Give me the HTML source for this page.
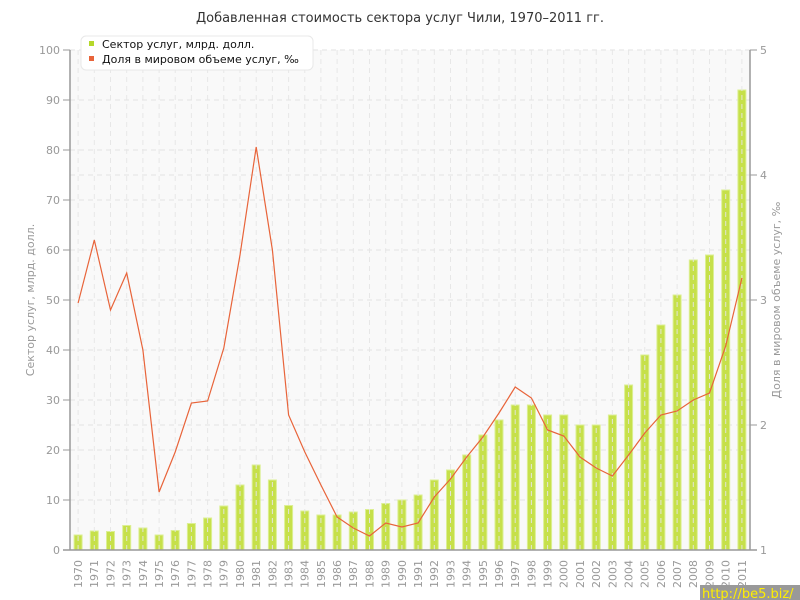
<!DOCTYPE html>
<html><head><meta charset="utf-8"><style>
body{margin:0;background:#fff;}
svg{display:block;font-family:"DejaVu Sans","Liberation Sans",sans-serif;}
</style></head><body>
<svg width="800" height="600" viewBox="0 0 800 600">
<rect x="0" y="0" width="800" height="600" fill="#fff"/>
<rect x="70" y="50" width="680" height="500" fill="#f9f9f9"/>
<text x="400" y="22" text-anchor="middle" font-size="13" fill="#333">Добавленная стоимость сектора услуг Чили, 1970–2011 гг.</text>
<g stroke="#e2e2e2" stroke-dasharray="5,4" stroke-width="1">
<path d="M70 50H750M70 100H750M70 150H750M70 200H750M70 250H750M70 300H750M70 350H750M70 400H750M70 450H750M70 500H750M70 175H750M70 425H750"/>
</g>
<g fill="#c6e04a" stroke="#dcef94" stroke-width="1">
<rect x="74.1" y="535" width="8" height="15"/>
<rect x="90.3" y="531" width="8" height="19"/>
<rect x="106.5" y="531.5" width="8" height="18.5"/>
<rect x="122.7" y="525.5" width="8" height="24.5"/>
<rect x="138.9" y="528" width="8" height="22"/>
<rect x="155.1" y="535" width="8" height="15"/>
<rect x="171.2" y="530.5" width="8" height="19.5"/>
<rect x="187.4" y="523.5" width="8" height="26.5"/>
<rect x="203.6" y="518" width="8" height="32"/>
<rect x="219.8" y="506" width="8" height="44"/>
<rect x="236" y="485" width="8" height="65"/>
<rect x="252.2" y="465" width="8" height="85"/>
<rect x="268.4" y="480" width="8" height="70"/>
<rect x="284.6" y="505.5" width="8" height="44.5"/>
<rect x="300.8" y="511" width="8" height="39"/>
<rect x="316.9" y="515" width="8" height="35"/>
<rect x="333.1" y="515" width="8" height="35"/>
<rect x="349.3" y="512" width="8" height="38"/>
<rect x="365.5" y="509.5" width="8" height="40.5"/>
<rect x="381.7" y="503.5" width="8" height="46.5"/>
<rect x="397.9" y="500" width="8" height="50"/>
<rect x="414.1" y="495" width="8" height="55"/>
<rect x="430.3" y="480" width="8" height="70"/>
<rect x="446.5" y="470" width="8" height="80"/>
<rect x="462.7" y="455" width="8" height="95"/>
<rect x="478.9" y="435" width="8" height="115"/>
<rect x="495" y="420" width="8" height="130"/>
<rect x="511.2" y="405" width="8" height="145"/>
<rect x="527.4" y="405" width="8" height="145"/>
<rect x="543.6" y="415" width="8" height="135"/>
<rect x="559.8" y="415" width="8" height="135"/>
<rect x="576" y="425" width="8" height="125"/>
<rect x="592.2" y="425" width="8" height="125"/>
<rect x="608.4" y="415" width="8" height="135"/>
<rect x="624.6" y="385" width="8" height="165"/>
<rect x="640.8" y="355" width="8" height="195"/>
<rect x="656.9" y="325" width="8" height="225"/>
<rect x="673.1" y="295" width="8" height="255"/>
<rect x="689.3" y="260" width="8" height="290"/>
<rect x="705.5" y="255" width="8" height="295"/>
<rect x="721.7" y="190" width="8" height="360"/>
<rect x="737.9" y="90" width="8" height="460"/>
</g>
<g stroke="#e6e6e6" stroke-dasharray="5,4" stroke-width="1" opacity="0.9">
<path d="M78.1 50V550M94.3 50V550M110.5 50V550M126.7 50V550M142.9 50V550M159.1 50V550M175.2 50V550M191.4 50V550M207.6 50V550M223.8 50V550M240 50V550M256.2 50V550M272.4 50V550M288.6 50V550M304.8 50V550M320.9 50V550M337.1 50V550M353.3 50V550M369.5 50V550M385.7 50V550M401.9 50V550M418.1 50V550M434.3 50V550M450.5 50V550M466.7 50V550M482.9 50V550M499 50V550M515.2 50V550M531.4 50V550M547.6 50V550M563.8 50V550M580 50V550M596.2 50V550M612.4 50V550M628.6 50V550M644.8 50V550M660.9 50V550M677.1 50V550M693.3 50V550M709.5 50V550M725.7 50V550M741.9 50V550"/>
</g>
<polyline fill="none" stroke="#e8643a" stroke-width="1.2" points="78.1,303 94.3,240 110.5,310 126.7,273 142.9,350 159.1,492 175.2,452 191.4,403 207.6,401 223.8,348 240,255 256.2,147 272.4,250 288.6,415 304.8,452 320.9,485 337.1,517 353.3,528 369.5,536 385.7,523 401.9,527 418.1,523 434.3,497 450.5,479 466.7,457 482.9,437 499,413 515.2,387 531.4,398 547.6,430 563.8,436 580,457 596.2,468 612.4,476 628.6,455 644.8,433 660.9,415 677.1,411 693.3,400 709.5,393 725.7,346 741.9,278"/>
<g stroke="#999" stroke-width="1.5">
<path d="M70 50V550M63 550H757M750 50V550"/>
</g>
<g stroke="#999" stroke-width="1">
<path d="M63 50H70M63 100H70M63 150H70M63 200H70M63 250H70M63 300H70M63 350H70M63 400H70M63 450H70M63 500H70M750 50H757M750 175H757M750 300H757M750 425H757"/>
</g>
<g font-size="11" fill="#999" text-anchor="end">
<text x="60" y="54">100</text><text x="60" y="104">90</text><text x="60" y="154">80</text><text x="60" y="204">70</text><text x="60" y="254">60</text><text x="60" y="304">50</text><text x="60" y="354">40</text><text x="60" y="404">30</text><text x="60" y="454">20</text><text x="60" y="504">10</text><text x="60" y="554">0</text>
</g>
<g font-size="11" fill="#999">
<text x="760" y="54">5</text><text x="760" y="179">4</text><text x="760" y="304">3</text><text x="760" y="429">2</text><text x="760" y="554">1</text>
</g>
<text transform="translate(34,300) rotate(-90)" text-anchor="middle" font-size="11" fill="#999">Сектор услуг, млрд. долл.</text>
<text transform="translate(780,300) rotate(-90)" text-anchor="middle" font-size="11" fill="#999">Доля в мировом объеме услуг, ‰</text>
<g font-size="11" fill="#999" text-anchor="end">
<text transform="translate(82,560) rotate(-90)">1970</text>
<text transform="translate(98.2,560) rotate(-90)">1971</text>
<text transform="translate(114.4,560) rotate(-90)">1972</text>
<text transform="translate(130.6,560) rotate(-90)">1973</text>
<text transform="translate(146.8,560) rotate(-90)">1974</text>
<text transform="translate(163,560) rotate(-90)">1975</text>
<text transform="translate(179.1,560) rotate(-90)">1976</text>
<text transform="translate(195.3,560) rotate(-90)">1977</text>
<text transform="translate(211.5,560) rotate(-90)">1978</text>
<text transform="translate(227.7,560) rotate(-90)">1979</text>
<text transform="translate(243.9,560) rotate(-90)">1980</text>
<text transform="translate(260.1,560) rotate(-90)">1981</text>
<text transform="translate(276.3,560) rotate(-90)">1982</text>
<text transform="translate(292.5,560) rotate(-90)">1983</text>
<text transform="translate(308.7,560) rotate(-90)">1984</text>
<text transform="translate(324.8,560) rotate(-90)">1985</text>
<text transform="translate(341,560) rotate(-90)">1986</text>
<text transform="translate(357.2,560) rotate(-90)">1987</text>
<text transform="translate(373.4,560) rotate(-90)">1988</text>
<text transform="translate(389.6,560) rotate(-90)">1989</text>
<text transform="translate(405.8,560) rotate(-90)">1990</text>
<text transform="translate(422,560) rotate(-90)">1991</text>
<text transform="translate(438.2,560) rotate(-90)">1992</text>
<text transform="translate(454.4,560) rotate(-90)">1993</text>
<text transform="translate(470.6,560) rotate(-90)">1994</text>
<text transform="translate(486.8,560) rotate(-90)">1995</text>
<text transform="translate(502.9,560) rotate(-90)">1996</text>
<text transform="translate(519.1,560) rotate(-90)">1997</text>
<text transform="translate(535.3,560) rotate(-90)">1998</text>
<text transform="translate(551.5,560) rotate(-90)">1999</text>
<text transform="translate(567.7,560) rotate(-90)">2000</text>
<text transform="translate(583.9,560) rotate(-90)">2001</text>
<text transform="translate(600.1,560) rotate(-90)">2002</text>
<text transform="translate(616.3,560) rotate(-90)">2003</text>
<text transform="translate(632.5,560) rotate(-90)">2004</text>
<text transform="translate(648.7,560) rotate(-90)">2005</text>
<text transform="translate(664.8,560) rotate(-90)">2006</text>
<text transform="translate(681,560) rotate(-90)">2007</text>
<text transform="translate(697.2,560) rotate(-90)">2008</text>
<text transform="translate(713.4,560) rotate(-90)">2009</text>
<text transform="translate(729.6,560) rotate(-90)">2010</text>
<text transform="translate(745.8,560) rotate(-90)">2011</text>
</g>
<rect x="81" y="36" width="232" height="34" rx="5" fill="#fff" stroke="#e8e8e8"/>
<rect x="89" y="41" width="5" height="5" fill="#b5d82a"/>
<rect x="89" y="56" width="5" height="5" fill="#e8643a"/>
<g font-size="11" fill="#111">
<text x="102" y="48">Сектор услуг, млрд. долл.</text>
<text x="102" y="63">Доля в мировом объеме услуг, ‰</text>
</g>
<rect x="700" y="585" width="100" height="15" fill="#999"/>
<text x="702" y="598" font-size="13" fill="#ffee00">http://be5.biz/</text>
</svg>
</body></html>
